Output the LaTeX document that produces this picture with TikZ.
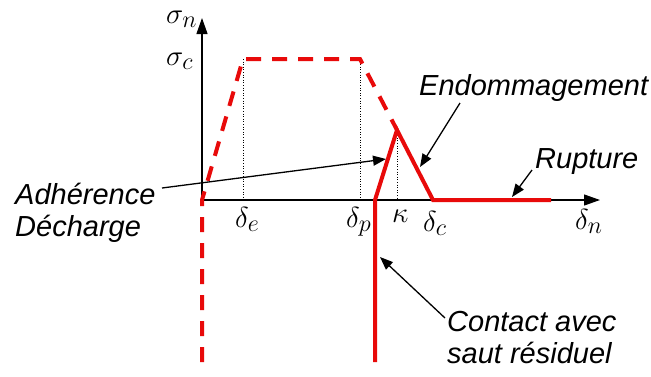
\documentclass[tikz,border=0pt]{standalone}
\usepackage{fontspec}
\setmainfont{Liberation Sans}
\usepackage{tikz}
\usetikzlibrary{positioning,arrows.meta}
\definecolor{lawred}{RGB}{232,10,10}
\newcommand{\axsym}[1]{\scalebox{1.165}{$#1$}}
\tikzset{
  axisline/.style={-{Triangle[length=16pt,width=11pt]}, line width=1.2pt},
  lawdash/.style={lawred, line width=4pt, dash pattern=on 15pt off 11pt},
  lawline/.style={lawred, line width=4pt},
  guideline/.style={line width=0.8pt, dash pattern=on 1pt off 1.6pt},
  callarrow/.style={-{Triangle[length=13pt,width=10pt]}, line width=1.3pt},
  callout/.style={font=\fontsize{29}{31.5}\selectfont\itshape, align=left, inner sep=0pt},
  axlabel/.style={font=\fontsize{24.88}{26}\selectfont, inner sep=0pt}
}

\begin{document}
\begin{tikzpicture}[x=1pt, y=-1pt]
  \useasboundingbox (0,0) rectangle (651,376);
  % key points of the law
  \coordinate (O) at (202,200);
  \coordinate (ytop) at (202,18);
  \coordinate (xend) at (600,200);
  \coordinate (Obot) at (202,362);
  \coordinate (E) at (243,59);
  \coordinate (P) at (360,59);
  \coordinate (K) at (397,130);
  \coordinate (C) at (433,200);
  \coordinate (F) at (551,200);
  \coordinate (R) at (375,200);
  \coordinate (Rbot) at (375,362);

  % axes and guides
  \draw[axisline] (O) -- (ytop);
  \draw[axisline] (O) -- (xend);
  \draw[guideline] (E) -- (E |- O);
  \draw[guideline] (P) -- (P |- O);
  \draw[guideline] (K) -- (K |- O);

  % cohesive law
  \draw[lawdash] (Obot) -- (O) -- (E) -- (P) -- (K);
  \draw[lawline] (Rbot) -- (R) -- (K) -- (C) -- (F);

  % axis labels
  \node[axlabel, anchor=base west] (sn) at (166,23) {\axsym{\sigma_n}};
  \node[axlabel, anchor=base west] (sc) at (166,65) {\axsym{\sigma_c}};
  \node[axlabel, anchor=base west] (de) at (235,227) {\axsym{\delta_e}};
  \node[axlabel, anchor=base west] (dp) at (346,227) {\axsym{\delta_p}};
  \node[axlabel, anchor=base west] (ka) at (392,222) {\axsym{\kappa}};
  \node[axlabel, anchor=base west] (dc) at (423,231) {\axsym{\delta_c}};
  \node[axlabel, anchor=base west] (dn) at (575,229) {\axsym{\delta_n}};

  % callouts
  \node[callout, anchor=base west] (endo) at (419,95) {Endommagement};
  \node[callout, anchor=base west] (rupt) at (535,168) {Rupture};
  \node[callout, anchor=base west] (adh) at (15,236) {Adhérence\\Décharge};
  \node[callout, anchor=base west] (cont) at (447,363) {Contact avec\\saut résiduel};

  \coordinate (endofrom) at (460,103);
  \coordinate (endoto) at (420,167);
  \coordinate (ruptfrom) at (532,170);
  \coordinate (ruptto) at (512,197);
  \coordinate (adhfrom) at (162,188);
  \coordinate (adhto) at (386,159);
  \coordinate (contfrom) at (445,318);
  \coordinate (contto) at (380,257);
  \draw[callarrow] (endofrom) -- (endoto);
  \draw[callarrow] (ruptfrom) -- (ruptto);
  \draw[callarrow] (adhfrom) -- (adhto);
  \draw[callarrow] (contfrom) -- (contto);
\end{tikzpicture}
\end{document}
